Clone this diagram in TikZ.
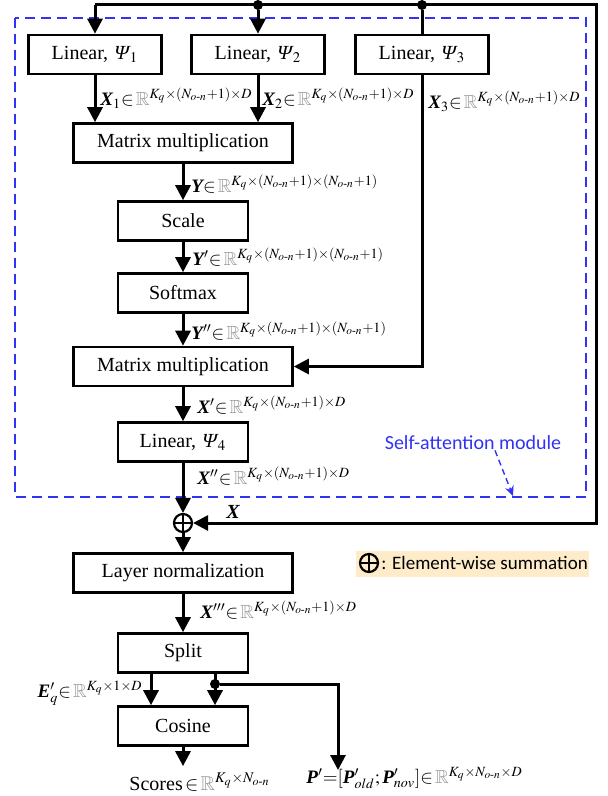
\documentclass[tikz,border=0pt]{standalone}
\usepackage{mathptmx}
\usepackage{amsmath,amssymb}
\usepackage[no-math]{fontspec}
\setmainfont{Liberation Serif}
\newfontfamily\slantserif[FakeSlant=0.22]{Liberation Serif}
\newfontfamily\labelsans{Carlito}
\usepackage{xcolor}
\usepackage{tikz}
\usetikzlibrary{arrows.meta, positioning, calc}
\definecolor{modulecolor}{RGB}{50,50,245}
\definecolor{legendcolor}{RGB}{253,235,201}
\definecolor{realcolor}{RGB}{150,150,150}
\newcommand{\bv}[1]{\text{\bfseries\itshape #1}}
\newcommand{\RR}{\textcolor{realcolor}{\mathbb{R}}}
\newcommand{\Non}{N_{o\text{-}n}}
\newcommand{\Psin}[1]{{\slantserif Ψ}\kern1pt$_{#1}$}

\begin{document}
\begin{tikzpicture}[
    x=0.5pt, y=-0.5pt,
    block/.style={draw, line width=1.3pt, minimum width=66.5pt, minimum height=19.5pt, inner sep=1pt, font=\normalsize},
    wideblock/.style={block, minimum width=109.5pt},
    smallblock/.style={block, minimum width=65pt},
    sumnode/.style={circle, draw, line width=1.1pt, minimum size=9pt, inner sep=0pt,
        path picture={\draw[line width=1.1pt] (path picture bounding box.north) -- (path picture bounding box.south)
            (path picture bounding box.west) -- (path picture bounding box.east);}},
    flow/.style={-{Triangle[length=7.5pt, width=7.5pt]}, line width=1.5pt},
    wire/.style={line width=1.5pt},
    dot/.style={circle, fill, inner sep=0pt, minimum size=5pt},
    lbl/.style={inner sep=0pt, anchor=west, font=\fontsize{9.5}{11}\selectfont},
    module/.style={draw=modulecolor, line width=0.8pt, dash pattern=on 5pt off 3pt},
    modarrow/.style={-{Stealth[length=5pt, width=4.5pt]}, modulecolor, line width=0.7pt, dash pattern=on 3pt off 2pt},
    modtext/.style={text=modulecolor, font=\labelsans\fontsize{10}{12}\selectfont, inner sep=0pt},
    legendbox/.style={fill=legendcolor, minimum width=116.5pt, minimum height=13pt, inner sep=0pt},
    legendtext/.style={font=\labelsans\fontsize{9.5}{11}\selectfont, inner sep=0pt, anchor=west}
]
    \useasboundingbox (0,0) rectangle (607,796);

    % Self-attention module
    \draw[module] (15,18) rectangle (586,497);
    \node[modtext] (modtitle) at (473,443) {Self-attention module};
    \coordinate (modpoint) at (513,496);
    \draw[modarrow] ([xshift=11pt]modtitle.south) -- (modpoint);

    % Blocks
    \node[block] (lin1) at (95,54.5) {Linear, \Psin{1}};
    \node[block] (lin2) at (258,54.5) {Linear, \Psin{2}};
    \node[block] (lin3) at (422,54.5) {Linear, \Psin{3}};
    \node[wideblock] (mm1) at (183,143) {Matrix multiplication};
    \node[smallblock] (scale) at (183,221) {Scale};
    \node[smallblock] (softmax) at (183,293) {Softmax};
    \node[wideblock] (mm2) at (183,366.5) {Matrix multiplication};
    \node[smallblock] (lin4) at (183,442) {Linear, \Psin{4}};
    \node[sumnode] (sum) at (183,523) {};
    \node[wideblock] (lnorm) at (183,573) {Layer normalization};
    \node[smallblock] (split) at (183,653) {Split};
    \node[smallblock] (cosine) at (183,726) {Cosine};

    % Input
    \coordinate (topleft) at (95,5);
    \coordinate (topright) at (596,5);
    \node[dot] (in2) at (258,5) {};
    \node[dot] (in3) at (422,5) {};

    % Flows
    \draw[flow] (topleft) -- (topleft |- lin1.north);
    \draw[flow] (in2) -- (lin2);
    \draw[wire] (in3) -- (lin3);
    \draw[flow] (lin1) -- (lin1 |- mm1.north);
    \draw[flow] (lin2) -- (lin2 |- mm1.north);
    \draw[flow] (lin3) |- (mm2);
    \draw[flow] (mm1) -- (scale);
    \draw[flow] (scale) -- (softmax);
    \draw[flow] (softmax) -- (mm2);
    \draw[flow] (mm2) -- (lin4);
    \draw[flow] (lin4) -- (sum);
    \draw[flow] (topleft) -- (topright) -- (topright |- sum) -- (sum);
    \draw[flow] (sum) -- (lnorm);
    \draw[flow] (lnorm) -- (split);
    \draw[flow] ([xshift=-16pt]split.south) -- ([xshift=-16pt]cosine.north);
    \draw[flow] ([xshift=16pt]split.south) -- ([xshift=16pt]cosine.north);
    \node[dot] (branch) at (215,684) {};
    \coordinate (pend) at (338,770);
    \draw[flow] (branch) -| (pend);

    % Labels
    \node[lbl] (x1lbl) at (100,98) {$\bv{X}_1{\in}\,\RR^{K_q\times(\Non+1)\times D}$};
    \node[lbl] (x2lbl) at (262,98) {$\bv{X}_2{\in}\,\RR^{K_q\times(\Non+1)\times D}$};
    \node[lbl] (x3lbl) at (428,101) {$\bv{X}_3{\in}\,\RR^{K_q\times(\Non+1)\times D}$};
    \node[lbl] (ylbl) at (191,184) {$\bv{Y}{\in}\,\RR^{K_q\times(\Non+1)\times(\Non+1)}$};
    \node[lbl] (y1lbl) at (192,257) {$\bv{Y}'{\in}\,\RR^{K_q\times(\Non+1)\times(\Non+1)}$};
    \node[lbl] (y2lbl) at (191,331) {$\bv{Y}''{\in}\,\RR^{K_q\times(\Non+1)\times(\Non+1)}$};
    \node[lbl] (x4lbl) at (197,405) {$\bv{X}'{\in}\,\RR^{K_q\times(\Non+1)\times D}$};
    \node[lbl] (x5lbl) at (197,476) {$\bv{X}''{\in}\,\RR^{K_q\times(\Non+1)\times D}$};
    \node at (233,512) (xres) {$\bv{X}$};
    \node[lbl] (x6lbl) at (200,610) {$\bv{X}'''{\in}\,\RR^{K_q\times(\Non+1)\times D}$};
    \node[lbl, anchor=east] (elbl) at (143,693) {$\bv{E}'_q{\in}\,\RR^{K_q\times 1\times D}$};
    \node (scores) at (200,782) {Scores$\,{\in}\,\RR^{K_q\times \Non}$};
    \node[lbl] (plbl) at (306,778) {$\bv{P}'{=}[\bv{P}'_{old};\bv{P}'_{nov}]{\in}\,\RR^{K_q\times\Non\times D}$};
    \draw[flow] (cosine) -- (cosine |- scores.north);

    % Legend
    \node[legendbox] (legend) at (472.5,564) {};
    \node[sumnode] (legsym) at (369,563) {};
    \node[legendtext] (legtext) at (381,563) {: Element-wise summation};
\end{tikzpicture}
\end{document}
